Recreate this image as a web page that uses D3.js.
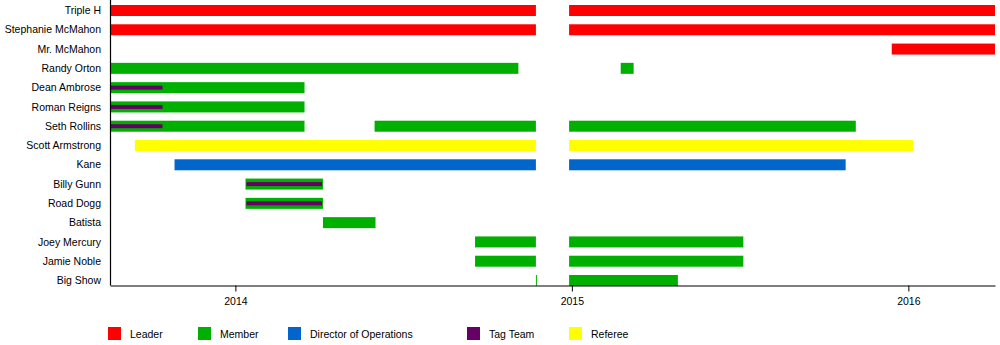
<!DOCTYPE html>
<html>
<head>
<meta charset="utf-8">
<script src="https://cdn.jsdelivr.net/npm/d3@7"></script>
<style>
  html, body { margin: 0; padding: 0; background: #fff; }
  svg { display: block; }
  text { font-family: "Liberation Sans", Arial, sans-serif; fill: #000; }
</style>
</head>
<body>
<svg id="chart" width="1000" height="345"></svg>
<script>
// ---- data ----
const members = ["Triple H", "Stephanie McMahon", "Mr. McMahon", "Randy Orton", "Dean Ambrose",
  "Roman Reigns", "Seth Rollins", "Scott Armstrong", "Kane", "Billy Gunn", "Road Dogg",
  "Batista", "Joey Mercury", "Jamie Noble", "Big Show"];

const roles = ["Leader", "Member", "Director of Operations", "Tag Team", "Referee"];
const roleColors = ["#ff0000", "#00b000", "#0066cc", "#660066", "#ffff00"];

const periodStart = "2013-08-18";
const periodEnd = "2016-04-04";
const yearTicks = ["2014", "2015", "2016"];

// [member, role, start, end]
const leaderSpans = [
  ["Triple H", "2013-08-18", "2014-11-23"], ["Triple H", "2014-12-29", "2016-04-04"],
  ["Stephanie McMahon", "2013-08-18", "2014-11-23"], ["Stephanie McMahon", "2014-12-29", "2016-04-04"],
  ["Mr. McMahon", "2015-12-14", "2016-04-04"]
];
const memberSpans = [
  ["Randy Orton", "2013-08-18", "2014-11-04"], ["Randy Orton", "2015-02-23", "2015-03-09"],
  ["Dean Ambrose", "2013-08-18", "2014-03-17"],
  ["Roman Reigns", "2013-08-18", "2014-03-17"],
  ["Seth Rollins", "2013-08-18", "2014-03-17"], ["Seth Rollins", "2014-06-01", "2014-11-23"],
  ["Seth Rollins", "2014-12-29", "2015-11-05"],
  ["Billy Gunn", "2014-01-12", "2014-04-06"],
  ["Road Dogg", "2014-01-12", "2014-04-06"],
  ["Batista", "2014-04-06", "2014-06-02"],
  ["Joey Mercury", "2014-09-18", "2014-11-23"], ["Joey Mercury", "2014-12-29", "2015-07-06"],
  ["Jamie Noble", "2014-09-18", "2014-11-23"], ["Jamie Noble", "2014-12-29", "2015-07-06"],
  ["Big Show", "2014-11-23", "2014-11-24"], ["Big Show", "2014-12-29", "2015-04-26"]
];
const directorSpans = [
  ["Kane", "2013-10-27", "2014-11-23"], ["Kane", "2014-12-29", "2015-10-25"]
];
const tagTeamSpans = [
  ["Dean Ambrose", "2013-08-18", "2013-10-14"],
  ["Roman Reigns", "2013-08-18", "2013-10-14"],
  ["Seth Rollins", "2013-08-18", "2013-10-14"],
  ["Billy Gunn", "2014-01-13", "2014-04-05"],
  ["Road Dogg", "2014-01-13", "2014-04-05"]
];
const refereeSpans = [
  ["Scott Armstrong", "2013-09-14", "2014-11-23"], ["Scott Armstrong", "2014-12-29", "2016-01-06"]
];

// ---- layout ----
const plot = { left: 110, right: 995, top: 0, bottom: 285 };
const barH = 11, tagH = 4;
const legendX = [108, 198, 288, 467, 569];

const parse = d3.utcParse("%Y-%m-%d");
const svg = d3.select("#chart");

const x = d3.scaleUtc()
  .domain([parse(periodStart), parse(periodEnd)])
  .range([plot.left, plot.right]);

const y = d3.scalePoint()
  .domain(members)
  .range([10.5, 280.5]);

const color = d3.scaleOrdinal().domain(roles).range(roleColors);

function drawSpans(spans, role, h) {
  svg.append("g").selectAll("rect")
    .data(spans)
    .join("rect")
    .attr("x", d => x(parse(d[1])))
    .attr("width", d => Math.max(1, x(parse(d[2])) - x(parse(d[1]))))
    .attr("y", d => y(d[0]) - h / 2)
    .attr("height", h)
    .attr("fill", color(role));
}

drawSpans(leaderSpans, "Leader", barH);
drawSpans(memberSpans, "Member", barH);
drawSpans(directorSpans, "Director of Operations", barH);
drawSpans(refereeSpans, "Referee", barH);
drawSpans(tagTeamSpans, "Tag Team", tagH);

// member labels
svg.append("g").selectAll("text")
  .data(members)
  .join("text")
  .attr("x", 101)
  .attr("y", d => y(d))
  .attr("dy", "0.35em")
  .attr("text-anchor", "end")
  .style("font-size", "10.5px")
  .text(d => d);

// axes
const xAxis = d3.axisBottom(x)
  .tickValues(yearTicks.map(t => parse(t + "-01-01")))
  .tickFormat(d3.utcFormat("%Y"))
  .tickSize(6)
  .tickSizeOuter(0);

const gx = svg.append("g")
  .attr("transform", `translate(0,${plot.bottom + 0.5})`)
  .call(xAxis);
gx.select(".domain").attr("stroke", "#000").attr("stroke-width", 1.2);
gx.selectAll(".tick line").attr("stroke", "#000");
gx.selectAll(".tick text")
  .attr("y", 12)
  .style("font-size", "10.5px")
  .style("font-family", "'Liberation Sans', Arial, sans-serif");

svg.append("line")
  .attr("x1", plot.left + 0.5).attr("x2", plot.left + 0.5)
  .attr("y1", plot.top).attr("y2", plot.bottom + 0.5)
  .attr("stroke", "#000").attr("stroke-width", 1.2);

// legend
const lg = svg.append("g").selectAll("g")
  .data(roles)
  .join("g")
  .attr("transform", (d, i) => `translate(${legendX[i]},327)`);
lg.append("rect").attr("width", 13).attr("height", 13).attr("fill", d => color(d));
lg.append("text")
  .attr("x", 22).attr("y", 7).attr("dy", "0.35em")
  .style("font-size", "10.5px")
  .text(d => d);
</script>
</body>
</html>
